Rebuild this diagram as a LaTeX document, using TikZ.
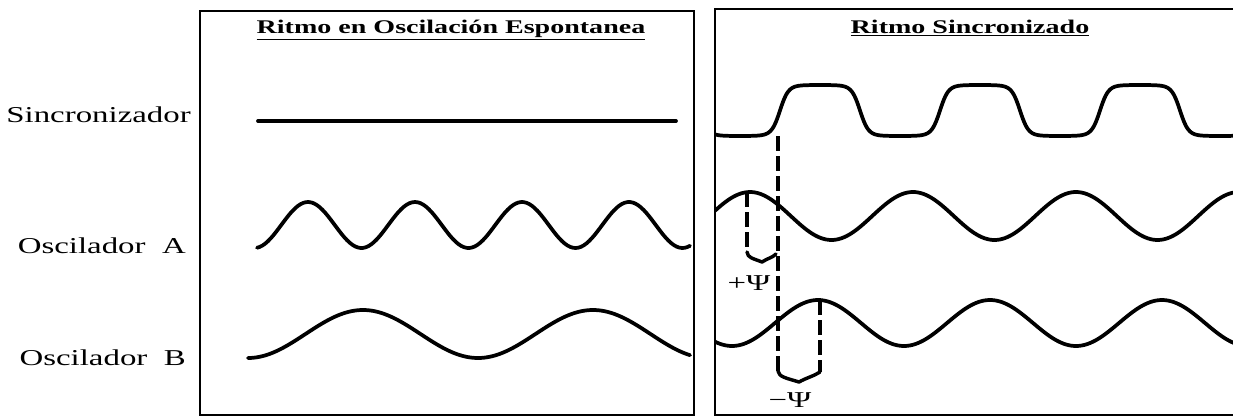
\documentclass[tikz,border=0pt]{standalone}
\usepackage{fontspec}
\setmainfont{Liberation Serif}[FakeStretch=1.45]
\usepackage{tikz}

\begin{document}
\begin{tikzpicture}[x=0.75pt,y=0.75pt,yscale=-1,xscale=1,
  panel/.style={line width=1.6pt},
  wave/.style={line width=2.8pt,line join=round,line cap=round},
  phase/.style={line width=2.6pt,dash pattern={on 11pt off 4pt}},
  brace/.style={line width=2.6pt,line cap=round,line join=round},
  lbl/.style={anchor=base east,inner sep=0pt,font=\fontsize{17}{20}\selectfont},
  heading/.style={anchor=base,inner sep=0pt,font=\fontsize{14.5}{17}\selectfont\bfseries},
  psi/.style={inner sep=0pt,font=\fontsize{17}{19}\selectfont}]

\useasboundingbox (0,0) rectangle (1233,418);

%Shape: Rectangle (left panel)
\draw [panel] (200,11) -- (694,11) -- (694,415) -- (200,415) -- cycle ;
%Shape: Open Rectangle (right panel)
\draw [panel] (1236,9) -- (715,9) -- (715,415) -- (1236,415) ;

% Text Node
\node [heading] (hesp) at (451,33) {\underline{Ritmo en Oscilación Espontanea}};
% Text Node
\node [heading] (hsin) at (970,33) {\underline{Ritmo Sincronizado}};
% Text Node
\node [lbl] (lsin) at (191,122) {Sincronizador};
% Text Node
\node [lbl] (losa) at (186,253) {Oscilador\ \ A};
% Text Node
\node [lbl] (losb) at (186,365) {Oscilador\ \ B};

%Straight Lines (free synchronizer)
\draw [wave] (258,121) -- (676,121) ;
%Curve Lines (free oscillator A)
\draw [wave] plot [domain=257:690,samples=160] (\x,{225-23*cos(360*((\x-308)/107))}) ;
%Curve Lines (free oscillator B)
\draw [wave] plot [domain=248:690,samples=160] (\x,{334-24*cos(360*((\x-363)/230))}) ;

\begin{scope}
\clip (715,9) rectangle (1233,415);
%Curve Lines (synchronizer)
\draw [wave] plot [domain=715:1240,samples=400] (\x,{110.5-25.6*tanh(3*sin(360*((\x-780)/160)))}) ;
%Curve Lines (synchronized oscillator A)
\draw [wave] plot [domain=715:1240,samples=200] (\x,{216-24*cos(360*((\x-750)/163))}) ;
%Curve Lines (synchronized oscillator B)
\draw [wave] plot [domain=715:1240,samples=200] (\x,{323-23*cos(360*((\x-818)/172))}) ;
\end{scope}

% phase marks
\coordinate (srise) at (778,136);
\coordinate (sbot) at (778,371);
\coordinate (smid) at (776,254);
\coordinate (apk) at (747,192);
\coordinate (apkb) at (747,252);
\coordinate (bpk) at (820,300);
\coordinate (bpkb) at (820,372);
\coordinate (tipp) at (762,262);
\coordinate (tipm) at (799,382);

%Straight Lines (dashed)
\draw [phase] (srise) -- (sbot) ;
\draw [phase] (apk) -- (apkb) ;
\draw [phase] (bpk) -- (bpkb) ;
%Curve Lines (braces)
\draw [brace] (apkb) .. controls (748,258) and (752,258) .. (tipp) .. controls (768,258) and (772,258) .. (smid) ;
\draw [brace] (sbot) .. controls (779,377) and (786,378) .. (tipm) .. controls (806,378) and (814,376) .. (bpkb) ;

% Text Node
\node [psi] (psip) at (749,283) {+Ψ};
% Text Node
\node [psi] (psim) at (790,400) {−Ψ};
\end{tikzpicture}
\end{document}
